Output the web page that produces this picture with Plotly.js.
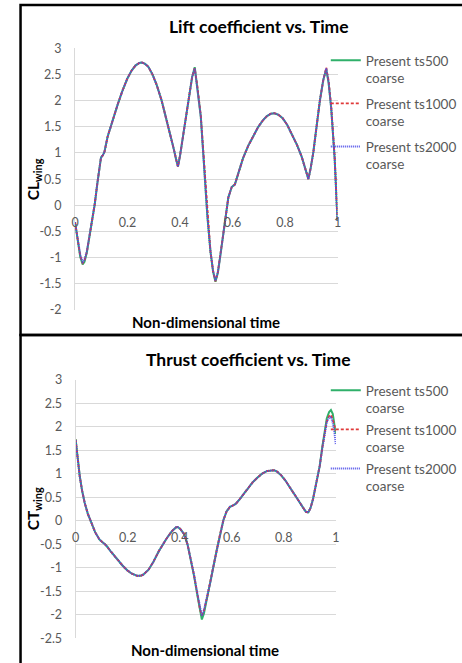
<!DOCTYPE html>
<html>
<head>
<meta charset="utf-8">
<script src="https://cdn.plot.ly/plotly-3.0.1.min.js"></script>
<style>html,body{margin:0;padding:0;background:#fff;}#chart{width:462px;height:663px;}</style>
</head>
<body>
<div id="chart"></div>
<script>
// ---------- DATA ----------
const seriesNames = ["Present ts500<br>coarse", "Present ts1000<br>coarse", "Present ts2000<br>coarse"];
const seriesColors = ["#2fb06a", "#e03a3a", "#4a4ae8"];

const xTickVals = [0, 0.2, 0.4, 0.6, 0.8, 1];
const xTickText = ["0", "0.2", "0.4", "0.6", "0.8", "1"];

const liftYTickVals = [-2, -1.5, -1, -0.5, 0, 0.5, 1, 1.5, 2, 2.5, 3];
const liftYTickText = ["-2", "-1.5", "-1", "-0.5", "0", "0.5", "1", "1.5", "2", "2.5", "3"];
const thrustYTickVals = [-2.5, -2, -1.5, -1, -0.5, 0, 0.5, 1, 1.5, 2, 2.5, 3];
const thrustYTickText = ["-2.5", "-2", "-1.5", "-1", "-0.5", "0", "0.5", "1", "1.5", "2", "2.5", "3"];

// Lift coefficient
const tLift = [0, 0.012, 0.020, 0.029, 0.036, 0.045, 0.055, 0.065, 0.075, 0.085, 0.093, 0.099, 0.105, 0.112, 0.124, 0.140, 0.162, 0.180, 0.199, 0.215, 0.230, 0.245, 0.255, 0.268, 0.280, 0.295, 0.311, 0.330, 0.348, 0.362, 0.375, 0.385, 0.392, 0.400, 0.410, 0.422, 0.435, 0.446, 0.456, 0.466, 0.479, 0.491, 0.504, 0.516, 0.526, 0.535, 0.544, 0.553, 0.563, 0.572, 0.584, 0.597, 0.603, 0.609, 0.622, 0.640, 0.660, 0.678, 0.697, 0.715, 0.730, 0.746, 0.760, 0.775, 0.790, 0.808, 0.827, 0.846, 0.864, 0.877, 0.889, 0.898, 0.908, 0.920, 0.933, 0.946, 0.957, 0.966, 0.976, 0.989, 1.0];
const clTs500 = [-0.32, -0.74, -0.99, -1.13, -1.08, -0.90, -0.61, -0.30, 0.02, 0.42, 0.74, 0.92, 0.95, 1.02, 1.31, 1.58, 1.92, 2.18, 2.42, 2.57, 2.67, 2.72, 2.73, 2.70, 2.64, 2.50, 2.30, 2.00, 1.66, 1.38, 1.10, 0.88, 0.74, 0.95, 1.28, 1.72, 2.14, 2.45, 2.64, 2.26, 1.70, 0.80, -0.20, -0.89, -1.27, -1.46, -1.29, -0.98, -0.62, -0.28, 0.15, 0.35, 0.38, 0.40, 0.61, 0.90, 1.14, 1.32, 1.49, 1.62, 1.70, 1.75, 1.76, 1.73, 1.67, 1.54, 1.36, 1.15, 0.92, 0.72, 0.50, 0.72, 1.02, 1.50, 2.01, 2.40, 2.60, 2.34, 1.85, 0.90, -0.30];
const clTs1000 = [-0.32, -0.73, -0.97, -1.10, -1.06, -0.89, -0.60, -0.30, 0.02, 0.42, 0.74, 0.92, 0.95, 1.02, 1.31, 1.58, 1.92, 2.18, 2.42, 2.57, 2.67, 2.72, 2.73, 2.70, 2.64, 2.50, 2.30, 2.00, 1.66, 1.38, 1.10, 0.88, 0.74, 0.95, 1.28, 1.72, 2.14, 2.45, 2.62, 2.28, 1.72, 0.82, -0.18, -0.88, -1.26, -1.45, -1.28, -0.98, -0.62, -0.28, 0.15, 0.35, 0.38, 0.40, 0.61, 0.90, 1.14, 1.32, 1.49, 1.62, 1.70, 1.75, 1.76, 1.73, 1.67, 1.54, 1.36, 1.15, 0.92, 0.72, 0.50, 0.72, 1.02, 1.50, 2.01, 2.40, 2.63, 2.38, 1.88, 0.93, -0.28];
const clTs2000 = [-0.32, -0.72, -0.95, -1.08, -1.04, -0.88, -0.60, -0.30, 0.02, 0.42, 0.74, 0.92, 0.95, 1.02, 1.31, 1.58, 1.92, 2.18, 2.42, 2.57, 2.67, 2.72, 2.73, 2.70, 2.64, 2.50, 2.30, 2.00, 1.66, 1.38, 1.10, 0.88, 0.74, 0.95, 1.28, 1.72, 2.14, 2.45, 2.62, 2.25, 1.70, 0.80, -0.20, -0.88, -1.25, -1.44, -1.28, -0.98, -0.62, -0.28, 0.15, 0.35, 0.38, 0.40, 0.61, 0.90, 1.14, 1.32, 1.49, 1.62, 1.70, 1.75, 1.76, 1.73, 1.67, 1.54, 1.36, 1.15, 0.92, 0.72, 0.50, 0.72, 1.02, 1.50, 2.01, 2.40, 2.62, 2.35, 1.85, 0.90, -0.32];

// Thrust coefficient
const tThrust = [0, 0.008, 0.016, 0.025, 0.035, 0.047, 0.060, 0.075, 0.092, 0.105, 0.117, 0.135, 0.161, 0.180, 0.198, 0.215, 0.236, 0.250, 0.261, 0.280, 0.298, 0.320, 0.349, 0.370, 0.385, 0.392, 0.402, 0.417, 0.430, 0.442, 0.455, 0.468, 0.478, 0.485, 0.493, 0.505, 0.518, 0.530, 0.543, 0.555, 0.568, 0.580, 0.593, 0.605, 0.615, 0.630, 0.643, 0.660, 0.680, 0.700, 0.718, 0.735, 0.750, 0.762, 0.774, 0.790, 0.806, 0.825, 0.844, 0.860, 0.875, 0.885, 0.894, 0.903, 0.912, 0.925, 0.938, 0.948, 0.956, 0.965, 0.974, 0.981, 0.988, 0.994, 1.0];
const ctTs500 = [1.74, 1.31, 0.95, 0.64, 0.38, 0.15, -0.05, -0.24, -0.40, -0.47, -0.52, -0.65, -0.83, -0.95, -1.05, -1.12, -1.17, -1.17, -1.14, -1.04, -0.88, -0.64, -0.38, -0.22, -0.14, -0.13, -0.17, -0.28, -0.50, -0.79, -1.17, -1.59, -1.94, -2.10, -1.97, -1.66, -1.32, -0.96, -0.60, -0.28, 0.02, 0.20, 0.30, 0.33, 0.36, 0.46, 0.56, 0.68, 0.82, 0.93, 1.01, 1.06, 1.08, 1.08, 1.05, 0.97, 0.86, 0.70, 0.52, 0.38, 0.26, 0.19, 0.18, 0.28, 0.46, 0.80, 1.17, 1.58, 1.90, 2.18, 2.32, 2.36, 2.28, 2.08, 1.85];
const ctTs1000 = [1.73, 1.30, 0.94, 0.64, 0.38, 0.15, -0.05, -0.24, -0.40, -0.47, -0.52, -0.65, -0.83, -0.95, -1.05, -1.12, -1.17, -1.17, -1.14, -1.04, -0.88, -0.64, -0.38, -0.22, -0.14, -0.13, -0.17, -0.28, -0.50, -0.78, -1.15, -1.56, -1.89, -2.01, -1.91, -1.63, -1.30, -0.95, -0.60, -0.28, 0.02, 0.20, 0.30, 0.33, 0.36, 0.46, 0.56, 0.68, 0.82, 0.93, 1.01, 1.06, 1.08, 1.08, 1.05, 0.97, 0.86, 0.70, 0.52, 0.38, 0.26, 0.19, 0.18, 0.28, 0.46, 0.80, 1.17, 1.56, 1.86, 2.12, 2.23, 2.26, 2.16, 2.02, 1.92];
const ctTs2000 = [1.72, 1.30, 0.94, 0.64, 0.38, 0.15, -0.05, -0.24, -0.40, -0.47, -0.52, -0.65, -0.83, -0.95, -1.05, -1.12, -1.17, -1.17, -1.14, -1.04, -0.88, -0.64, -0.38, -0.22, -0.14, -0.13, -0.17, -0.28, -0.50, -0.78, -1.15, -1.55, -1.88, -2.02, -1.90, -1.62, -1.30, -0.95, -0.60, -0.28, 0.02, 0.20, 0.30, 0.33, 0.36, 0.46, 0.56, 0.68, 0.82, 0.93, 1.01, 1.06, 1.08, 1.08, 1.05, 0.97, 0.86, 0.70, 0.52, 0.38, 0.26, 0.19, 0.18, 0.28, 0.46, 0.80, 1.17, 1.55, 1.85, 2.10, 2.20, 2.22, 2.08, 1.90, 1.62];

// ---------- PLOT ----------
const W = 462, H = 663;
const px = v => v / W;           // pixel -> paper x
const py = v => 1 - v / H;       // pixel (from top) -> paper y

const liftRange = [-2, 3];
const thrustRange = [-2.5, 3];
const liftDomY = [py(310), py(48.3)];
const thrustDomY = [py(638.3), py(380)];
const zeroPos = (dom, r) => dom[0] + (0 - r[0]) / (r[1] - r[0]) * (dom[1] - dom[0]);

const dashes = ["solid", "3px,2px", "1px,1px"];
const widths = [2, 1.8, 2];
const liftSeries = [clTs500, clTs1000, clTs2000];
const thrustSeries = [ctTs500, ctTs1000, ctTs2000];

const traces = [];
for (let i = 0; i < 3; i++) {
  traces.push({
    x: tLift, y: liftSeries[i], type: "scatter", mode: "lines",
    name: seriesNames[i], xaxis: "x", yaxis: "y", legend: "legend",
    legendgroup: "L" + i,
    line: {color: seriesColors[i], width: widths[i], dash: dashes[i]},
    hoverinfo: "skip"
  });
}
for (let i = 0; i < 3; i++) {
  traces.push({
    x: tThrust, y: thrustSeries[i], type: "scatter", mode: "lines",
    name: seriesNames[i], xaxis: "x2", yaxis: "y2", legend: "legend2",
    legendgroup: "T" + i,
    line: {color: seriesColors[i], width: widths[i], dash: dashes[i]},
    hoverinfo: "skip"
  });
}

const FONT = "Lato, 'Open Sans', sans-serif";
const tickFont = {family: FONT, size: 12.5, color: "#595959"};
const legFont = {family: FONT, size: 13.5, color: "#595959"};
const titleFont = {family: FONT, size: 17.5, color: "#000", weight: "bold"};
const axTitleFont = {family: FONT, size: 15, color: "#000", weight: "bold"};

function xAx(dom, pos) {
  return {
    domain: dom, range: [0, 1], anchor: "free", position: pos,
    showgrid: false, zeroline: false, showline: false, ticks: "",
    tickvals: xTickVals, ticktext: xTickText, tickfont: tickFont,
    ticklabelstandoff: 8, fixedrange: true
  };
}
function yAx(dom, range, vals, text, anchor) {
  return {
    domain: dom, range: range, anchor: anchor,
    showgrid: true, gridcolor: "#d9d9d9", gridwidth: 1,
    zeroline: false, showline: true, linecolor: "#d9d9d9", linewidth: 1,
    ticks: "", tickvals: vals, ticktext: text, tickfont: tickFont,
    ticklabelstandoff: 10, fixedrange: true
  };
}

const layout = {
  width: W, height: H,
  margin: {l: 0, r: 0, t: 0, b: 0},
  paper_bgcolor: "#fff", plot_bgcolor: "#fff",
  font: {family: FONT},
  showlegend: true,
  title: {
    text: "Lift coefficient vs. Time", x: px(264.5), xanchor: "center",
    y: py(27), yanchor: "middle", xref: "paper", yref: "paper",
    font: titleFont
  },
  xaxis: xAx([px(76.7), px(345)], zeroPos(liftDomY, liftRange)),
  yaxis: yAx(liftDomY, liftRange, liftYTickVals, liftYTickText, "x"),
  xaxis2: xAx([px(77.3), px(343.3)], zeroPos(thrustDomY, thrustRange)),
  yaxis2: yAx(thrustDomY, thrustRange, thrustYTickVals, thrustYTickText, "x2"),
  legend: {
    x: px(333), xanchor: "left", y: py(45), yanchor: "top",
    font: legFont, bgcolor: "rgba(0,0,0,0)", borderwidth: 0, valign: "top",
    traceorder: "grouped", tracegroupgap: 5
  },
  legend2: {
    x: px(333), xanchor: "left", y: py(375), yanchor: "top",
    font: legFont, bgcolor: "rgba(0,0,0,0)", borderwidth: 0, valign: "top",
    traceorder: "grouped", tracegroupgap: 1
  },
  annotations: [
    {text: "Thrust coefficient vs. Time", xref: "paper", yref: "paper",
     x: px(254), y: py(359), xanchor: "center", yanchor: "middle", showarrow: false,
     font: titleFont},
    {text: "Non-dimensional time", xref: "paper", yref: "paper",
     x: px(211), y: py(322), xanchor: "center", yanchor: "middle", showarrow: false,
     font: axTitleFont},
    {text: "Non-dimensional time", xref: "paper", yref: "paper",
     x: px(210), y: py(650), xanchor: "center", yanchor: "middle", showarrow: false,
     font: axTitleFont},
    {text: "CL<sub>wing</sub>", xref: "paper", yref: "paper", textangle: -90,
     x: px(35), y: py(179), xanchor: "center", yanchor: "middle", showarrow: false,
     font: {family: FONT, size: 15.5, color: "#000", weight: "bold"}},
    {text: "CT<sub>wing</sub>", xref: "paper", yref: "paper", textangle: -90,
     x: px(35), y: py(509), xanchor: "center", yanchor: "middle", showarrow: false,
     font: {family: FONT, size: 15.5, color: "#000", weight: "bold"}}
  ],
  shapes: [
    {type: "rect", xref: "paper", yref: "paper", x0: px(21), x1: 1.05, y0: py(335), y1: py(5),
     line: {color: "#000", width: 2.5}, fillcolor: "rgba(0,0,0,0)", layer: "above"},
    {type: "rect", xref: "paper", yref: "paper", x0: px(21), x1: 1.05, y0: -0.05, y1: py(335),
     line: {color: "#000", width: 2.5}, fillcolor: "rgba(0,0,0,0)", layer: "above"}
  ]
};

Plotly.newPlot("chart", traces, layout, {displayModeBar: false, staticPlot: true});
</script>
</body>
</html>
